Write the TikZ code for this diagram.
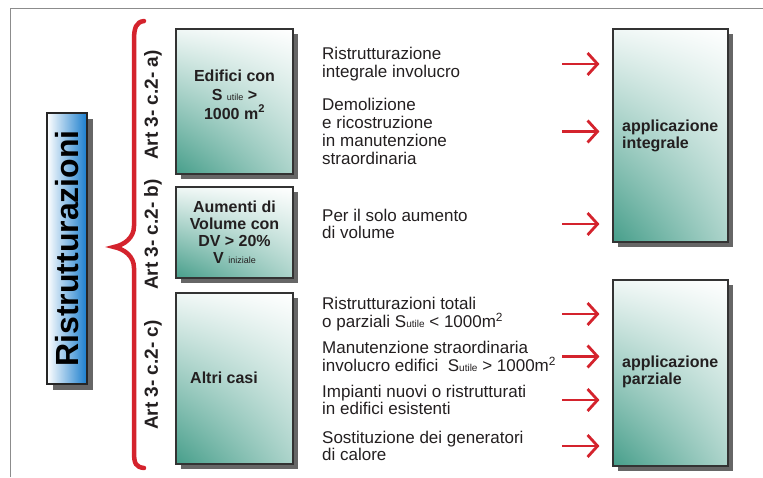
\documentclass[tikz,border=0pt]{standalone}
\usepackage{fontspec}
\setmainfont{Liberation Sans}
\usetikzlibrary{arrows.meta,shadows,shadings}
\definecolor{bracered}{RGB}{212,35,45}
\definecolor{boxteal}{RGB}{70,158,138}
\definecolor{titleblue}{RGB}{25,125,205}
\definecolor{textgray}{RGB}{35,31,32}
\definecolor{framegray}{RGB}{140,140,140}

\begin{document}
\begin{tikzpicture}[x=1pt,y=-1pt,
    greenbox/.style={draw=black!80,line width=1.1pt,inner sep=0pt,
      shading=bilinear interpolation,
      upper left=white!92!boxteal,upper right=white,
      lower left=boxteal,lower right=white!55!boxteal,
      drop shadow={shadow xshift=5pt,shadow yshift=-5pt,fill=black,opacity=.6}},
    boxlabel/.style={inner sep=0pt,align=center,text=textgray,
      font=\fontsize{16}{17}\selectfont\bfseries},
    artlabel/.style={rotate=90,inner sep=0pt,text=textgray,
      font=\fontsize{19}{19}\selectfont\bfseries},
    desc/.style={anchor=west,inner sep=0pt,align=left,text=textgray,
      font=\fontsize{17}{17.8}\selectfont},
    redarrow/.style={draw=bracered,line width=2.8pt,
      -{Straight Barb[length=10pt,width=22pt]}}]
  \useasboundingbox (0,0) rectangle (763,477);
  \draw[framegray,line width=1.5pt] (10.5,477) -- (10.5,8.5) -- (763,8.5);

  % title and brace
  \node[draw=black!85,line width=1.1pt,minimum width=40pt,minimum height=271pt,
    inner sep=0pt,left color=white,right color=titleblue,
    drop shadow={shadow xshift=6pt,shadow yshift=-6pt,fill=black,opacity=.6},
    font=\fontsize{32}{32}\selectfont\bfseries] (ristr) at (67,248.5)
    {\rotatebox{90}{Ristrutturazioni}};
  \draw[bracered,line width=4.5pt,line cap=round]
    (144,21) .. controls (136,22) and (134,28) .. (134,40) -- (134,226)
    .. controls (134,238) and (124,245) .. (114,247)
    .. controls (124,249) and (134,256) .. (134,268) -- (134,452)
    .. controls (134,464) and (136,467) .. (144,468);

  \node[artlabel] (artA) at (153,105) {Art 3- c.2- a)};
  \node[artlabel] (artB) at (153,234.5) {Art 3- c.2- b)};
  \node[artlabel] (artC) at (153,375) {Art 3- c.2- c)};

  % left boxes
  \node[greenbox,minimum width=117pt,minimum height=145pt] (boxA) at (234.5,101.5) {};
  \node[greenbox,minimum width=117pt,minimum height=91pt] (boxB) at (234.5,232.5) {};
  \node[greenbox,minimum width=117pt,minimum height=171pt] (boxC) at (234.5,378.5) {};
  \node[boxlabel,font=\fontsize{16}{19}\selectfont\bfseries] (labA) at ([yshift=7pt]boxA.center)
    {Edifici con\\S {\mdseries\fontsize{9}{9}\selectfont utile} >\\1000 m\textsuperscript{2}};
  \node[boxlabel] (labB) at (boxB.center)
    {Aumenti di\\Volume con\\DV > 20\%\\V {\mdseries\fontsize{9}{9}\selectfont iniziale}};
  \node[boxlabel,anchor=west] (labC) at (190,378) {Altri casi};

  % right boxes
  \node[greenbox,minimum width=115pt,minimum height=213pt] (boxI) at (670.5,135.5) {};
  \node[greenbox,minimum width=115pt,minimum height=186pt] (boxP) at (670.5,373) {};
  \node[boxlabel,anchor=west,align=left] (labI) at (622,136) {applicazione\\integrale};
  \node[boxlabel,anchor=west,align=left] (labP) at (622,372) {applicazione\\parziale};

  % descriptions
  \node[desc] (txtA) at (322,64) {Ristrutturazione\\integrale involucro};
  \node[desc] (txtB) at (322,131.5) {Demolizione\\e ricostruzione\\in manutenzione\\straordinaria};
  \node[desc] (txtC) at (322,224) {Per il solo aumento\\di volume};
  \node[desc] (txtD) at (322,314)
    {Ristrutturazioni totali\\o parziali S{\fontsize{10}{10}\selectfont utile} < 1000m\textsuperscript{2}};
  \node[desc] (txtE) at (322,356.5)
    {Manutenzione straordinaria\\involucro edifici \ S{\fontsize{10}{10}\selectfont utile} > 1000m\textsuperscript{2}};
  \node[desc] (txtF) at (322,400) {Impianti nuovi o ristrutturati\\in edifici esistenti};
  \node[desc] (txtG) at (322,446) {Sostituzione dei generatori\\di calore};

  % arrows
  \foreach \t/\b in {txtA/boxI,txtB/boxI,txtC/boxI,txtD/boxP,txtE/boxP,txtF/boxP,txtG/boxP}
    \draw[redarrow] ([xshift=-50pt]\b.west |- \t.center) -- ([xshift=-13pt]\b.west |- \t.center);
\end{tikzpicture}
\end{document}
